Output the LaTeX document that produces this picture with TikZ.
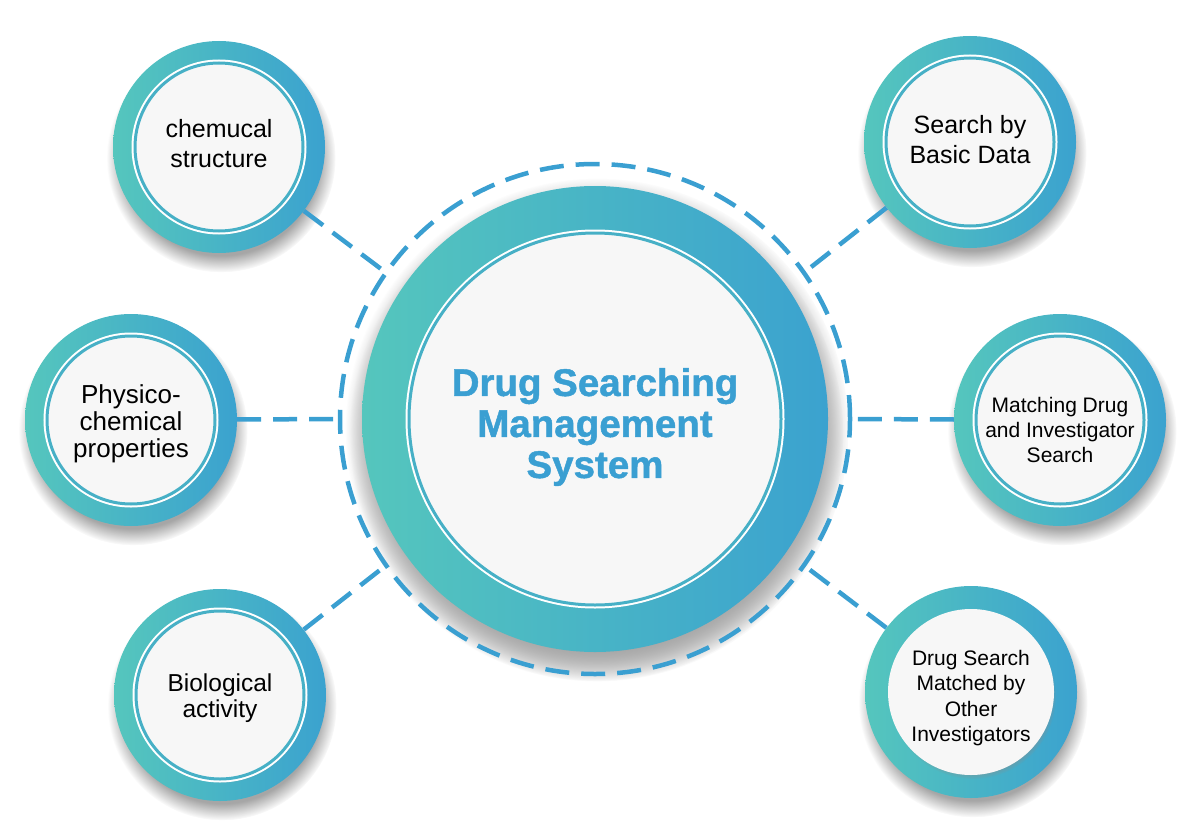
\documentclass[tikz,border=0pt]{standalone}
\usepackage{fontspec}
\setmainfont{Liberation Sans}
\newfontfamily\titlefont{Liberation Sans}[BoldFeatures={FakeBold=1.2}]
\usetikzlibrary{calc}
\usetikzlibrary{shadows}

\definecolor{tealL}{HTML}{55C6BD}
\definecolor{blueR}{HTML}{3BA2CF}
\definecolor{rimC}{HTML}{47B0C6}
\definecolor{dashC}{HTML}{3A9FD1}
\definecolor{discC}{HTML}{F7F7F7}
\definecolor{titleC}{HTML}{3A9FD2}

\tikzset{
  bubble/.style={circle, inner sep=0pt, minimum size=#1, left color=tealL, right color=blueR,
    circular drop shadow={shadow xshift=2pt, shadow yshift=-10pt, shadow scale=1.08, fill=black!35}},
  discbase/.style={circle, inner sep=0pt, fill=discC,
    circular drop shadow={shadow xshift=2pt, shadow yshift=-4pt, shadow scale=1.0, fill=black!45}},
  disc/.style={discbase, minimum size=#1, draw=rimC, line width=3pt, preaction={draw=white, line width=7pt}},
  txt/.style={align=center, text=black, inner sep=0pt},
  link/.style={dashC, line width=4.5pt, dash pattern=on 24pt off 12pt}
}

\begin{document}
\begin{tikzpicture}[x=1pt,y=1pt]
\useasboundingbox (0,0) rectangle (1185,-832);

% hub
\node[bubble=466pt, circular drop shadow={shadow yshift=-14pt, shadow scale=1.06, fill=black!35}] (hubring) at (595,-419) {};
\node[disc=372pt] (hubdisc) at (hubring) {};
\node[txt, text=titleC, font=\titlefont\bfseries\fontsize{38.5}{41}\selectfont] (hub) at ([yshift=-8pt]hubdisc.center) {Drug Searching\\Management\\System};
\draw[link] (hubring.center) circle[radius=255pt];

% points on the dashed circle
\foreach \a/\n in {145/ptl, 180/pl, 215/pbl, 35/ptr, 0/pr, -35/pbr}
  \coordinate (\n) at ($(hubring.center)+(\a:255pt)$);

% left side
\node[bubble=212pt] (chemring) at (219,-147) {};
\node[disc=168pt] (chemdisc) at (chemring) {};
\node[txt, font=\fontsize{25}{30}\selectfont] (chem) at ([yshift=3pt]chemdisc.center) {chemucal\\structure};
\node[bubble=212pt] (physring) at (131,-420) {};
\node[disc=168pt] (physdisc) at (physring) {};
\node[txt, font=\fontsize{26}{27}\selectfont] (phys) at ([yshift=-4pt]physdisc.center) {Physico-\\chemical\\properties};
\node[bubble=212pt] (bioring) at (220,-695) {};
\node[disc=168pt] (biodisc) at (bioring) {};
\node[txt, font=\fontsize{24.5}{26}\selectfont] (bio) at ([yshift=-3pt]biodisc.center) {Biological\\activity};

% right side
\node[bubble=212pt] (basicring) at (970,-142) {};
\node[disc=168pt] (basicdisc) at (basicring) {};
\node[txt, font=\fontsize{25}{30}\selectfont] (basic) at ([yshift=2pt]basicdisc.center) {Search by\\Basic Data};
\node[bubble=212pt] (matchring) at (1060,-420) {};
\node[disc=168pt] (matchdisc) at (matchring) {};
\node[txt, font=\fontsize{21}{25}\selectfont] (match) at ([yshift=-10pt]matchdisc.center) {Matching Drug\\and Investigator\\Search};
\node[bubble=212pt] (otherring) at (971,-692) {};
\node[discbase, minimum size=166pt] (otherdisc) at (otherring) {};
\node[txt, font=\fontsize{21}{25.5}\selectfont] (other) at ([yshift=-6pt]otherdisc.center) {Drug Search\\Matched by\\Other\\Investigators};

% connectors
\draw[link] (chemring) -- (ptl);
\draw[link] (physring) -- (pl);
\draw[link] (bioring) -- (pbl);
\draw[link] (basicring) -- (ptr);
\draw[link] (matchring) -- (pr);
\draw[link] (otherring) -- (pbr);
\end{tikzpicture}
\end{document}
